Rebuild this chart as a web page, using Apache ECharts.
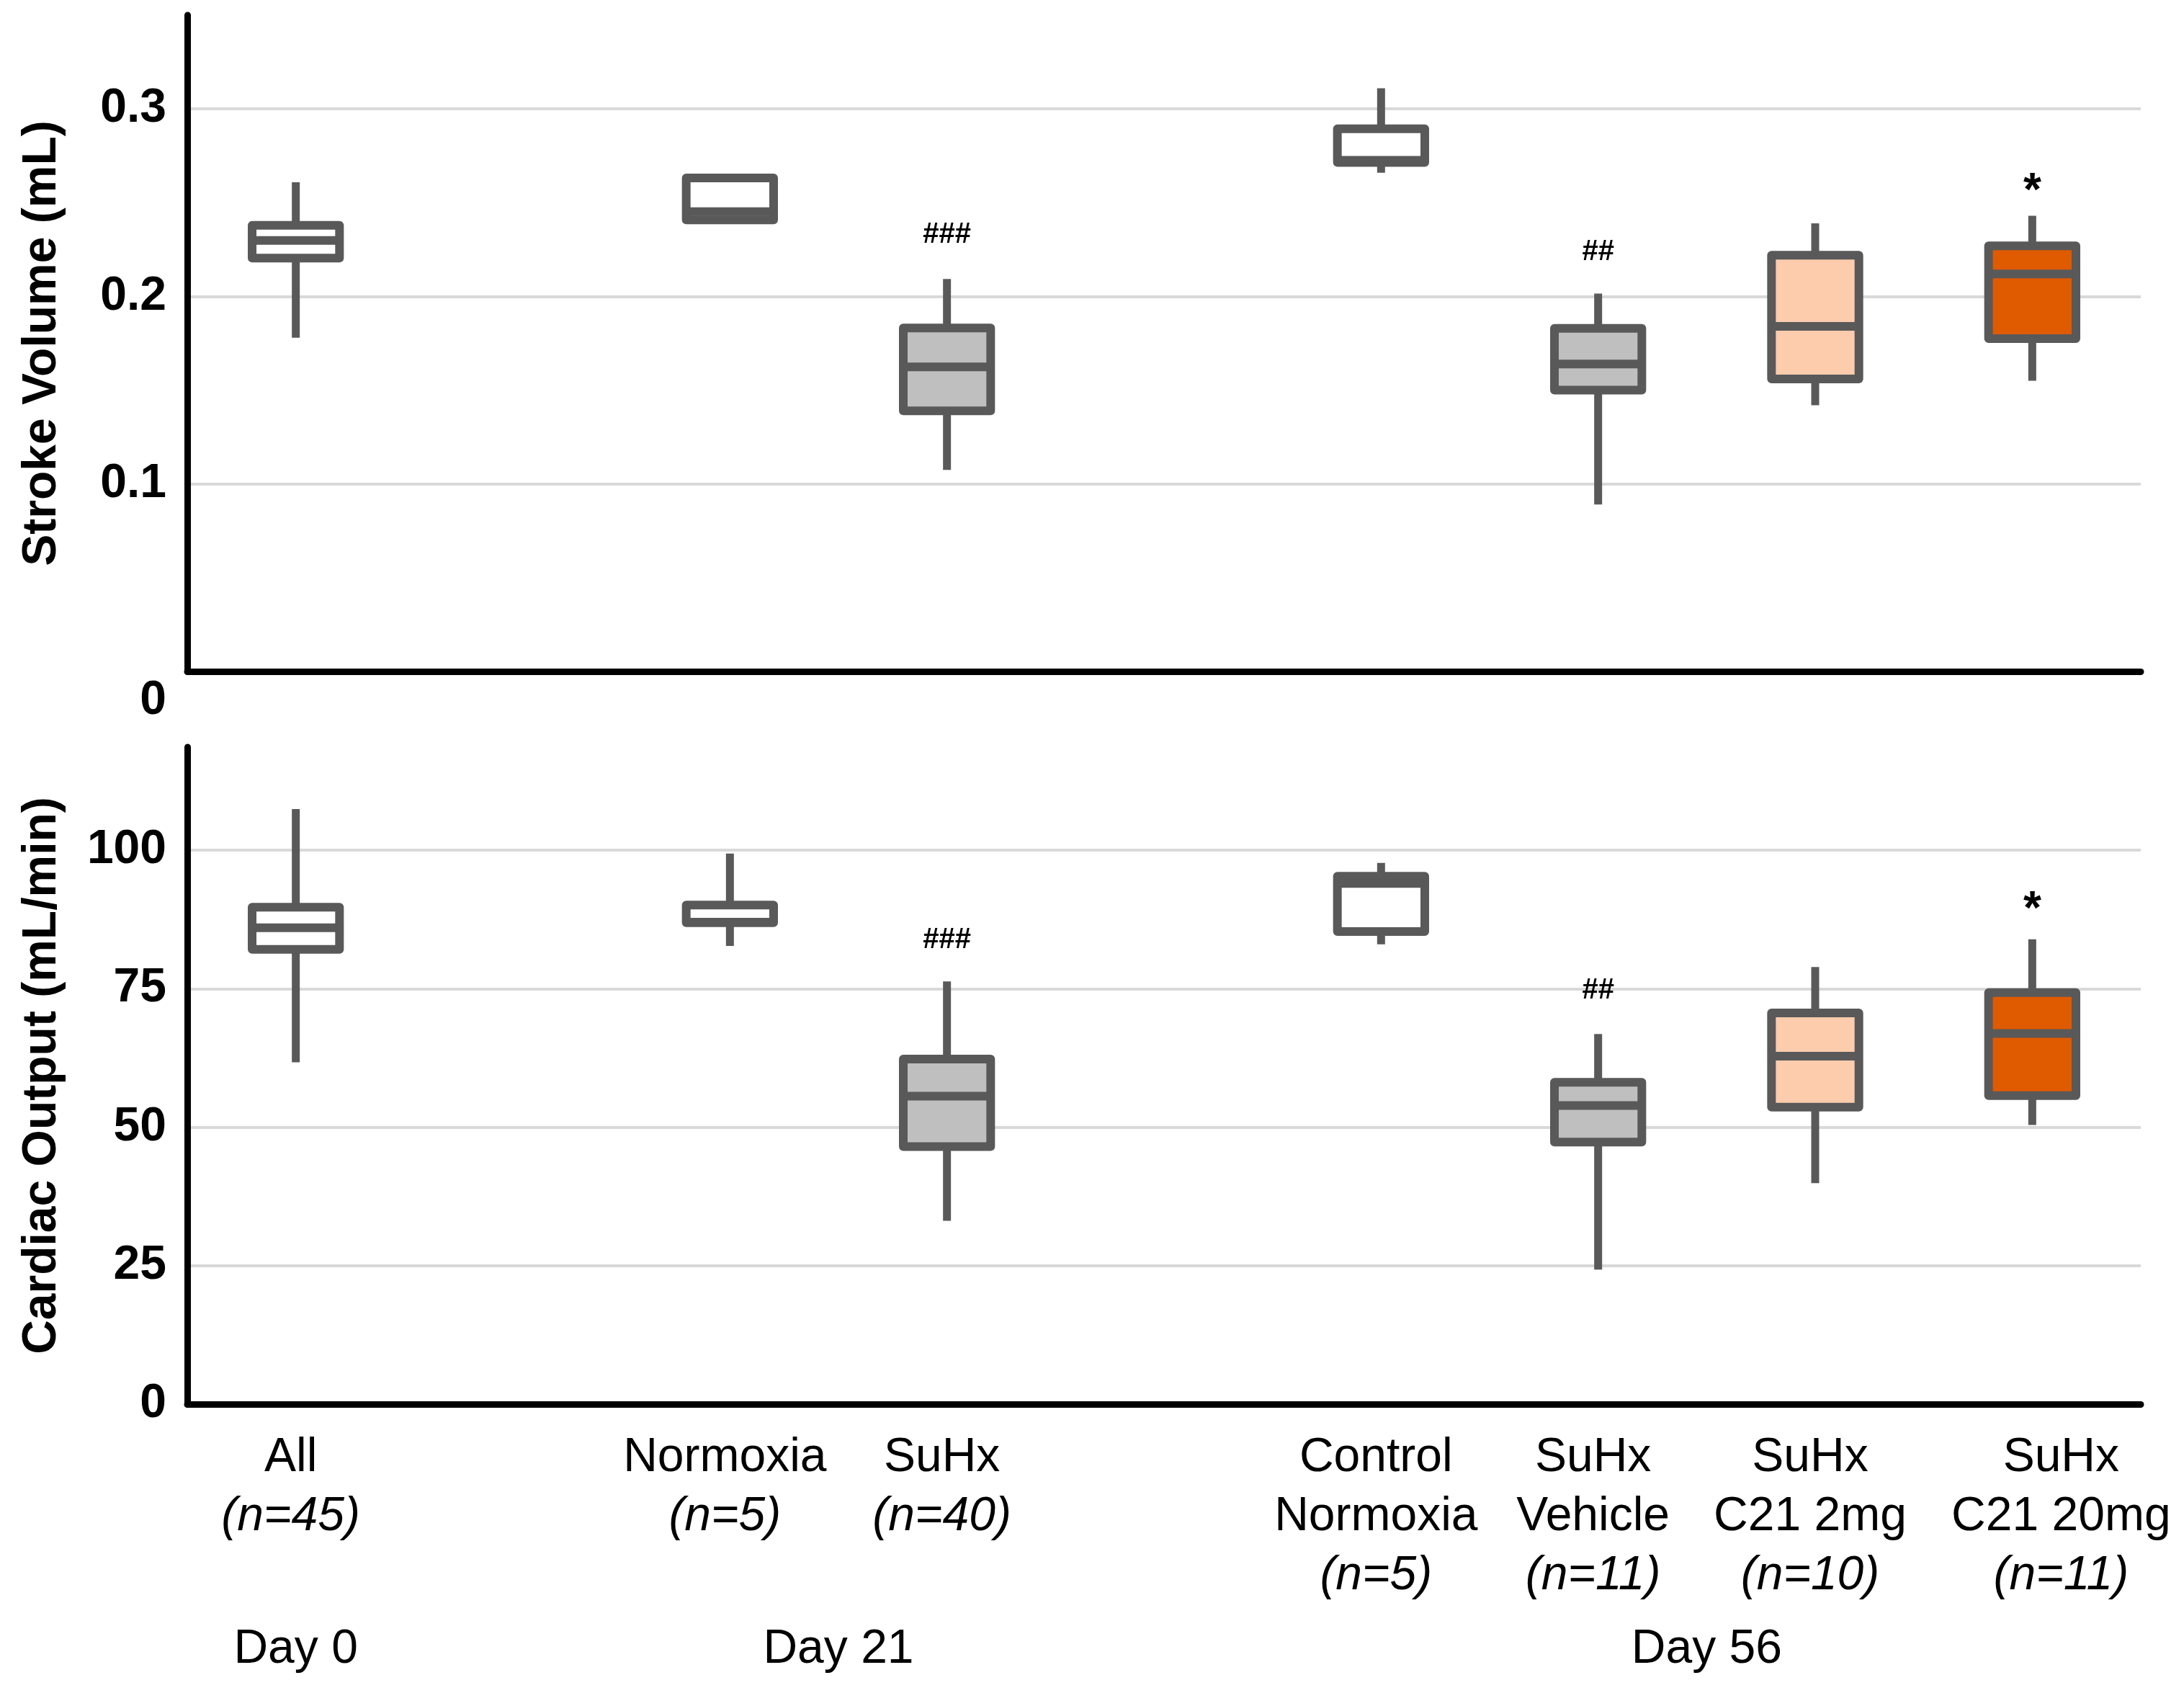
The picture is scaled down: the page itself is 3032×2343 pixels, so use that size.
<!DOCTYPE html>
<html>
<head>
<meta charset="utf-8">
<script src="https://cdn.jsdelivr.net/npm/echarts@6/dist/echarts.min.js"></script>
<style>
html,body{margin:0;padding:0;background:#ffffff;}
#chart{width:3032px;height:2343px;}
</style>
</head>
<body>
<div id="chart"></div>
<script>
// ---------- data ----------
const categories = ['All', '', 'Normoxia', 'SuHx', '', 'Control\nNormoxia', 'SuHx\nVehicle', 'SuHx\nC21 2mg', 'SuHx\nC21 20mg'];
const groupSizes = ['n=45', '', 'n=5', 'n=40', '', 'n=5', 'n=11', 'n=10', 'n=11'];

// Stroke volume (mL)
const svMin    = [0.178, null, 0.2408, 0.1075, null, 0.2660, 0.089, 0.142, 0.155];
const svQ1     = [0.2204, null, 0.2408, 0.139, null, 0.2714, 0.150, 0.156, 0.1775];
const svMedian = [0.2298, null, 0.2452, 0.1624, null, 0.2726, 0.164, 0.184, 0.212];
const svQ3     = [0.2379, null, 0.2632, 0.1832, null, 0.2894, 0.183, 0.222, 0.227];
const svMax    = [0.2609, null, 0.2632, 0.2093, null, 0.311, 0.2015, 0.239, 0.243];

// Cardiac output (mL/min)
const coMin    = [61.7, null, 82.7, 33.1, null, 83.0, 24.3, 39.9, 50.4];
const coQ1     = [82.1, null, 86.9, 46.5, null, 85.3, 47.3, 53.6, 55.7];
const coMedian = [86.0, null, 87.0, 55.6, null, 94.0, 53.9, 62.8, 66.9];
const coQ3     = [89.7, null, 90.1, 62.3, null, 95.3, 58.1, 70.6, 74.3];
const coMax    = [107.4, null, 99.4, 76.3, null, 97.7, 66.8, 78.9, 83.9];

// significance marks
const sigText  = ['', '', '', '###', '', '', '##', '', '*'];
const sigSvY   = [null, null, null, 0.233, null, null, 0.2235, null, 0.26];
const sigCoY   = [null, null, null, 83.7, null, null, 74.6, null, 90.6];

// time-point groups (first and last category index they span)
const dayGroups = [
  {label: 'Day 0',  from: 0, to: 0},
  {label: 'Day 21', from: 2, to: 3},
  {label: 'Day 56', from: 5, to: 8}
];

const svTicks = {min: 0, max: 0.35, interval: 0.1};
const coTicks = {min: 0, max: 118.6, interval: 25};

// ---------- styles ----------
const STROKE = '#595959';
const boxFill = ['#ffffff', null, '#ffffff', '#bfbfbf', null, '#ffffff', '#bfbfbf', '#fdccad', '#e05a00'];
const FONT = '"Liberation Sans", Arial, Helvetica, sans-serif';
const BOX_FRACTION = 0.4026;

// ---------- build ----------
function buildBoxData(mn, q1, md, q3, mx) {
  const out = [];
  for (let i = 0; i < categories.length; i++) {
    if (md[i] == null) continue;
    out.push([i, mn[i], q1[i], md[i], q3[i], mx[i]]);
  }
  return out;
}
function buildSigData(ys) {
  const out = [];
  for (let i = 0; i < ys.length; i++) {
    if (ys[i] == null) continue;
    out.push([i, ys[i]]);
  }
  return out;
}
const daySlots = new Array(categories.length * 2 + 1).fill('');
dayGroups.forEach(g => { daySlots[g.from + g.to + 1] = g.label; });

function renderBox(params, api) {
  const idx = api.value(0);
  const pMin = api.coord([idx, api.value(1)]);
  const pQ1 = api.coord([idx, api.value(2)]);
  const pMed = api.coord([idx, api.value(3)]);
  const pQ3 = api.coord([idx, api.value(4)]);
  const pMax = api.coord([idx, api.value(5)]);
  const band = api.size([1, 0])[0];
  const w = band * BOX_FRACTION;
  const cx = pMed[0];
  return {
    type: 'group',
    children: [
      {type: 'line', shape: {x1: cx, y1: pMax[1], x2: cx, y2: pMin[1]},
       style: {stroke: STROKE, lineWidth: 11, lineCap: 'butt'}},
      {type: 'rect', shape: {x: cx - w / 2, y: pQ3[1], width: w, height: pQ1[1] - pQ3[1]},
       style: {fill: boxFill[idx], stroke: STROKE, lineWidth: 12, lineJoin: 'round'}},
      {type: 'line', shape: {x1: cx - w / 2, y1: pMed[1], x2: cx + w / 2, y2: pMed[1]},
       style: {stroke: STROKE, lineWidth: 12, lineCap: 'butt'}}
    ]
  };
}
function renderSig(params, api) {
  const idx = api.value(0);
  const p = api.coord([idx, api.value(1)]);
  const t = sigText[idx];
  const isStar = t === '*';
  return {
    type: 'text',
    x: p[0], y: p[1] + (isStar ? 12 : 0),
    style: {
      text: t, fill: '#000',
      fontFamily: FONT, fontWeight: 'bold', fontSize: isStar ? 64 : 40,
      align: 'center', verticalAlign: 'middle',
      textAlign: 'center', textVerticalAlign: 'middle'
    }
  };
}

const yLabelStyle = {color: '#000', fontFamily: FONT, fontWeight: 'bold', fontSize: 66, margin: 29};
const yNameStyle = {color: '#000', fontFamily: FONT, fontWeight: 'bold', fontSize: 66};

const option = {
  animation: false,
  backgroundColor: '#ffffff',
  grid: [
    {left: 260, right: 60, top: 21, height: 911},
    {left: 260, right: 60, top: 1037, height: 912}
  ],
  xAxis: [
    {type: 'category', gridIndex: 0, data: categories, boundaryGap: true,
     axisLine: {lineStyle: {color: '#000', width: 9}}, axisTick: {show: false},
     axisLabel: {show: false}, splitLine: {show: false}},
    {type: 'category', gridIndex: 1,
     data: categories.map((c, i) => ({value: c, textStyle: {padding: i === 8 ? [0, 0, 0, 80] : [0, 14, 0, 0]}})),
     boundaryGap: true,
     axisLine: {lineStyle: {color: '#000', width: 9}}, axisTick: {show: false},
     splitLine: {show: false},
     axisLabel: {
       interval: 0, margin: 34, color: '#000', fontFamily: FONT, fontSize: 66, lineHeight: 82,
       formatter: function (value, index) {
         if (!value) return '';
         return value + '\n{i|(' + groupSizes[index] + ')}';
       },
       rich: {i: {fontStyle: 'italic', fontFamily: FONT, fontSize: 66, lineHeight: 82, color: '#000'}}
     }},
    {type: 'category', gridIndex: 1, data: daySlots, boundaryGap: false, position: 'bottom', offset: 268,
     axisLine: {show: false}, axisTick: {show: false}, splitLine: {show: false},
     axisLabel: {interval: 0, margin: 40, color: '#000', fontFamily: FONT, fontSize: 66}}
  ],
  yAxis: [
    {type: 'value', gridIndex: 0, min: svTicks.min, max: svTicks.max, interval: svTicks.interval,
     name: 'Stroke Volume (mL)', nameLocation: 'middle', nameGap: 168, nameTextStyle: yNameStyle,
     axisLine: {show: true, lineStyle: {color: '#000', width: 9}}, axisTick: {show: false},
     axisLabel: Object.assign({}, yLabelStyle, {
       showMaxLabel: false,
       formatter: function (v) { return v === 0 ? '{z|0}' : String(+v.toFixed(2)); },
       rich: {z: {padding: [82, 0, 0, 0], fontFamily: FONT, fontWeight: 'bold', fontSize: 66, color: '#000'}}
     }),
     splitLine: {show: true, showMinLine: false, showMaxLine: false, lineStyle: {color: '#d9d9d9', width: 4}}},
    {type: 'value', gridIndex: 1, min: coTicks.min, max: coTicks.max, interval: coTicks.interval,
     name: 'Cardiac Output (mL/min)', nameLocation: 'middle', nameGap: 168, nameTextStyle: yNameStyle,
     axisLine: {show: true, lineStyle: {color: '#000', width: 9}}, axisTick: {show: false},
     axisLabel: Object.assign({}, yLabelStyle, {showMaxLabel: false}),
     splitLine: {show: true, showMinLine: false, showMaxLine: false, lineStyle: {color: '#d9d9d9', width: 4}}}
  ],
  series: [
    {type: 'custom', name: 'Stroke Volume', xAxisIndex: 0, yAxisIndex: 0,
     dimensions: ['idx', 'min', 'q1', 'median', 'q3', 'max'],
     encode: {x: 0, y: [1, 2, 3, 4, 5]},
     renderItem: renderBox, data: buildBoxData(svMin, svQ1, svMedian, svQ3, svMax)},
    {type: 'custom', name: 'Cardiac Output', xAxisIndex: 1, yAxisIndex: 1,
     dimensions: ['idx', 'min', 'q1', 'median', 'q3', 'max'],
     encode: {x: 0, y: [1, 2, 3, 4, 5]},
     renderItem: renderBox, data: buildBoxData(coMin, coQ1, coMedian, coQ3, coMax)},
    {type: 'custom', name: 'SV sig', xAxisIndex: 0, yAxisIndex: 0,
     encode: {x: 0, y: 1}, renderItem: renderSig, data: buildSigData(sigSvY)},
    {type: 'custom', name: 'CO sig', xAxisIndex: 1, yAxisIndex: 1,
     encode: {x: 0, y: 1}, renderItem: renderSig, data: buildSigData(sigCoY)}
  ]
};

const chart = echarts.init(document.getElementById('chart'), null, {renderer: 'canvas'});
chart.setOption(option);
</script>
</body>
</html>
